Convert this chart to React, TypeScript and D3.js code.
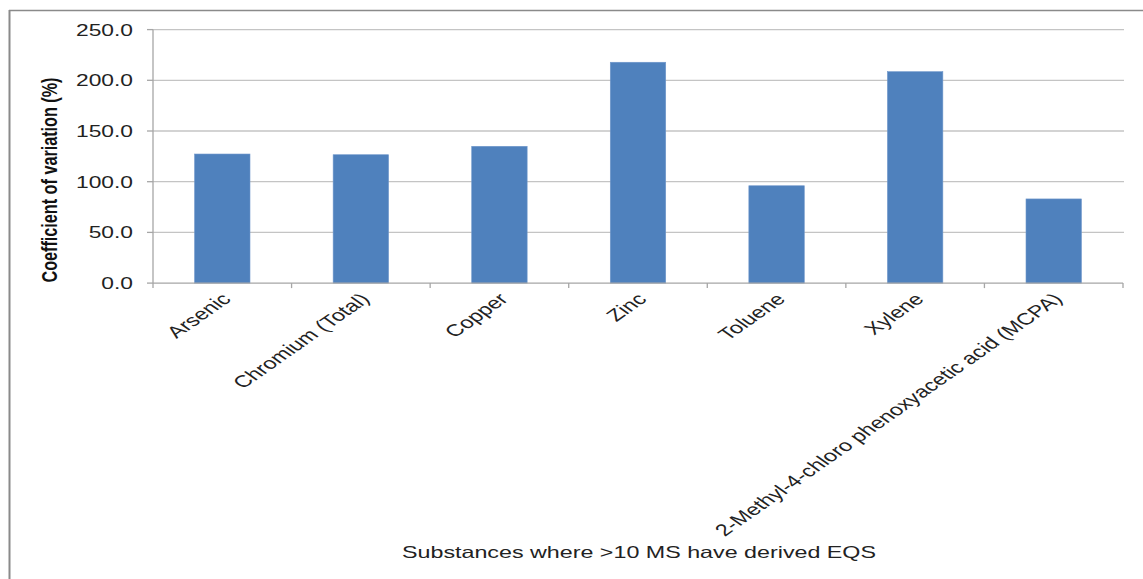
import React from "react";
import * as d3 from "d3";

const categories = [
  "Arsenic",
  "Chromium (Total)",
  "Copper",
  "Zinc",
  "Toluene",
  "Xylene",
  "2-Methyl-4-chloro phenoxyacetic acid (MCPA)",
];
const values = [127.3, 126.6, 134.9, 217.8, 96.0, 208.5, 83.0];
const yTicks = [0, 50, 100, 150, 200, 250];

const W = 1143;
const H = 579;
const left = 153;
const right = 1123;
const top = 29.6;
const bottom = 283.1;
const SX = 1.43;
const FONT = "'Liberation Sans', Arial, sans-serif";

export default function App() {
  const x = d3.scaleBand<string>().domain(categories).range([left, right]).paddingInner(0.6).paddingOuter(0.3);
  const xb = d3.scaleBand<string>().domain(categories).range([left, right]);
  const y = d3.scaleLinear().domain([0, 250]).range([bottom, top]);

  return (
    <svg width={W} height={H} style={{ position: "absolute", left: 0, top: 0, background: "#fff" }}>
      {/* frame */}
      <line x1={9.5} y1={10} x2={9.5} y2={H} stroke="#8a8a8a" strokeWidth={2} />
      <line x1={9} y1={10.5} x2={W} y2={10.5} stroke="#8a8a8a" strokeWidth={1.5} />

      {/* gridlines */}
      {yTicks.slice(1).map((t) => (
        <line key={"g" + t} x1={left} x2={right + 1} y1={y(t)} y2={y(t)} stroke="#c4c4c4" strokeWidth={1.3} />
      ))}

      {/* bars */}
      {categories.map((c, i) => (
        <rect
          key={c}
          x={x(c)}
          y={y(values[i])}
          width={x.bandwidth()}
          height={y(0) - y(values[i])}
          fill="#4F81BD"
          stroke="#6f97cb"
          strokeWidth={0.6}
        />
      ))}

      {/* y axis */}
      <line x1={left} x2={left} y1={top} y2={bottom} stroke="#a6a6a6" strokeWidth={1.3} />
      {yTicks.map((t) => (
        <g key={"yt" + t}>
          <line x1={left - 6} x2={left} y1={y(t)} y2={y(t)} stroke="#a6a6a6" strokeWidth={1.3} />
          <g transform={`translate(133,${y(t)}) scale(1.38,1)`}>
            <text textAnchor="end" dy="0.36em" fontFamily={FONT} fontSize={16.5} fill="#222">
              {d3.format(".1f")(t)}
            </text>
          </g>
        </g>
      ))}

      {/* x axis */}
      <line x1={left} x2={right} y1={bottom} y2={bottom} stroke="#a6a6a6" strokeWidth={1.3} />
      {categories.map((c) => (
        <line key={"xt" + c} x1={xb(c)!} x2={xb(c)!} y1={bottom} y2={bottom + 5} stroke="#a6a6a6" strokeWidth={1.3} />
      ))}
      <line x1={right} x2={right} y1={bottom} y2={bottom + 5} stroke="#a6a6a6" strokeWidth={1.3} />

      {/* x labels */}
      {categories.map((c) => {
        const cx = xb(c)! + xb.bandwidth() / 2;
        return (
          <g key={"xl" + c} transform={`translate(${cx + 4},${bottom + 13}) scale(${SX},1) rotate(-45)`}>
            <text textAnchor="end" dy="0.35em" fontFamily={FONT} fontSize={16.5} fill="#222">
              {c}
            </text>
          </g>
        );
      })}

      {/* y axis title */}
      <g transform={`translate(50,180) scale(1.25,1) rotate(-90)`}>
        <text
          textAnchor="middle"
          dy="0.35em"
          fontFamily={FONT}
          fontSize={17}
          fontWeight="bold"
          fill="#111"
          textLength={205}
          lengthAdjust="spacingAndGlyphs"
        >
          Coefficient of variation  (%)
        </text>
      </g>

      {/* x axis title */}
      <text
        x={639}
        y={558}
        textAnchor="middle"
        fontFamily={FONT}
        fontSize={16.5}
        fill="#222"
        textLength={474}
        lengthAdjust="spacingAndGlyphs"
      >
        Substances where &gt;10 MS have derived EQS
      </text>
    </svg>
  );
}
